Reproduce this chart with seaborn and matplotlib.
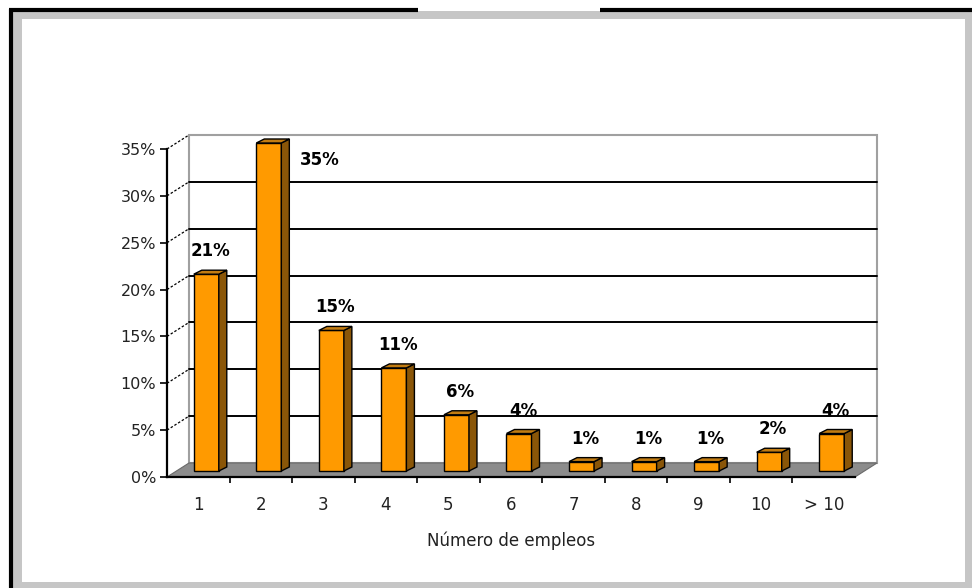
import numpy as np
import matplotlib
matplotlib.use("Agg")
import matplotlib.pyplot as plt
from matplotlib.patches import Polygon, Rectangle
from matplotlib.lines import Line2D
import seaborn as sns

# Share of people by number of jobs held
categorias = ["1", "2", "3", "4", "5", "6", "7", "8", "9", "10", "> 10"]
porcentajes = [21, 35, 15, 11, 6, 4, 1, 1, 1, 2, 4]
ticks_y = [0, 5, 10, 15, 20, 25, 30, 35]
etiquetas_y = [f"{t}%" for t in ticks_y]
titulo_x = "Número de empleos"

sns.set_theme(style="white")
plt.rcParams["font.family"] = ["DejaVu Sans"]

W, H = 972, 588
fig = plt.figure(figsize=(W / 100, H / 100), dpi=100)
fig.patch.set_facecolor("white")

# ---- frame drawn in pixel coordinates ----
bg = fig.add_axes([0, 0, 1, 1], zorder=0)
bg.set_xlim(0, W)
bg.set_ylim(H, 0)
bg.axis("off")
bg.add_patch(Rectangle((12, 11), W - 12, H - 11, facecolor="#c6c6c6", edgecolor="none"))
bg.add_patch(Rectangle((22, 19), 965 - 22, 582 - 19, facecolor="white", edgecolor="none"))
bg.plot([10.5, 10.5], [9, H], color="black", lw=3, solid_capstyle="butt")
bg.plot([9, 418], [9.5, 9.5], color="black", lw=3, solid_capstyle="butt")
bg.plot([600, W], [9.5, 9.5], color="black", lw=3, solid_capstyle="butt")

# ---- main plotting plane (front face of the 3D box) ----
x0_px, x1_px = 167, 855
y0_px, y1_px = 477, 149
ax = fig.add_axes([x0_px / W, (H - y0_px) / H, (x1_px - x0_px) / W, (y0_px - y1_px) / H], zorder=2)
n = len(categorias)
xmin, xmax = -0.5, n - 0.5
ymin, ymax = 0, 35

px_x = (x1_px - x0_px) / (xmax - xmin)   # pixels per category
px_y = (y0_px - y1_px) / (ymax - ymin)   # pixels per percent


def dx(p):
    return p / px_x


def dy(p):
    return p / px_y


# depth of the box (back wall offset) and bar placement
depth = (22, 14)
bar_shift = (8, 6)
bar_side = (8, 4)

orange = "#ff9a00"
side_c = "#8a5608"
top_c = "#c27c12"
floor_c = "#8c8c8c"
wall_edge = "#a0a0a0"

# back wall
bx, by = dx(depth[0]), dy(depth[1])
ax.add_patch(Rectangle((xmin + bx, ymin + by), xmax - xmin, ymax - ymin,
                       facecolor="white", edgecolor=wall_edge, lw=1.5,
                       clip_on=False, zorder=0))
# gridlines on the back wall and dashed ones on the side wall
for t in ticks_y[1:-1]:
    ax.add_line(Line2D([xmin + bx, xmax + bx], [t + by, t + by], color="black",
                       lw=1.4, clip_on=False, zorder=0.5))
for t in ticks_y[1:]:
    ax.add_line(Line2D([xmin, xmin + bx], [t, t + by], color="black", lw=0.9,
                       ls=(0, (2, 1.5)), clip_on=False, zorder=0.5))
# floor
ax.add_patch(Polygon([(xmin, 0), (xmax, 0), (xmax + bx, by), (xmin + bx, by)],
                     closed=True, facecolor=floor_c, edgecolor="#6a6a6a", lw=0.8,
                     clip_on=False, zorder=0.6))

# front faces of the columns
sns.barplot(x=categorias, y=porcentajes, ax=ax, color=orange, saturation=1,
            width=0.4, edgecolor="black", linewidth=1.0, zorder=3)
ax.set_xlim(xmin, xmax)
ax.set_ylim(ymin, ymax)

sx, sy = dx(bar_shift[0]), dy(bar_shift[1])
ddx, ddy = dx(bar_side[0]), dy(bar_side[1])
vmax = max(porcentajes)
for patch, v in zip(ax.patches[-n:], porcentajes):
    x = patch.get_x() + sx
    w = patch.get_width()
    h = patch.get_height()
    patch.set_x(x)
    patch.set_y(sy)
    patch.set_clip_on(False)
    top = h + sy
    ax.add_patch(Polygon([(x + w, sy), (x + w, top), (x + w + ddx, top + ddy), (x + w + ddx, sy + ddy)],
                         closed=True, facecolor=side_c, edgecolor="black", lw=1.0,
                         clip_on=False, zorder=3))
    ax.add_patch(Polygon([(x, top), (x + w, top), (x + w + ddx, top + ddy), (x + ddx, top + ddy)],
                         closed=True, facecolor=top_c, edgecolor="black", lw=1.0,
                         clip_on=False, zorder=3))
    cx = x + w / 2
    if v == vmax:
        ax.text(x + w + dx(38), top - dy(17), f"{v}%", ha="center", va="center",
                fontsize=12, fontweight="bold", color="black", clip_on=False, zorder=4)
    else:
        ax.text(cx + dx(4), top + dy(23), f"{v}%", ha="center", va="center",
                fontsize=12, fontweight="bold", color="black", clip_on=False, zorder=4)

# axes lines and ticks
for s in ["top", "right"]:
    ax.spines[s].set_visible(False)
for s in ["left", "bottom"]:
    ax.spines[s].set_visible(True)
    ax.spines[s].set_color("black")
    ax.spines[s].set_linewidth(1.6)
ax.set_facecolor("none")
ax.set_yticks(ticks_y)
ax.set_yticklabels(etiquetas_y, fontsize=11.5, color="#222222")
ax.set_xticks(range(n))
ax.set_xticklabels(categorias, fontsize=12, color="#222222")
ax.set_xticks(np.arange(0.5, n - 1, 1), minor=True)
ax.tick_params(axis="y", direction="out", length=5, width=1.2, color="black", pad=3, left=True)
ax.tick_params(axis="x", which="major", length=0, pad=14)
ax.tick_params(axis="x", which="minor", direction="out", length=4, width=1.2, color="black", bottom=True)
ax.set_xlabel(titulo_x, fontsize=12, color="#222222", labelpad=12)
ax.set_ylabel("")
ax.grid(False)

fig.savefig("out.png", dpi=100, facecolor="white")
